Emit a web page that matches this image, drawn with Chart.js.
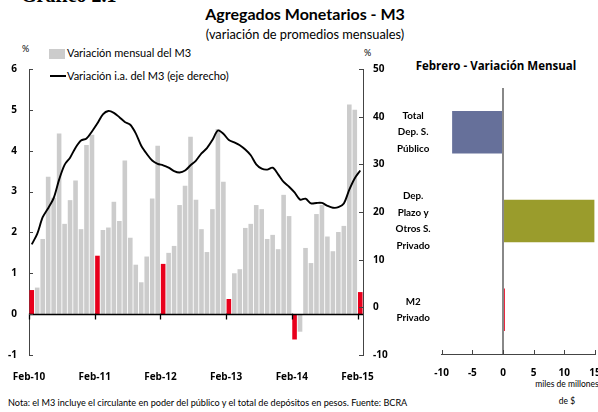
<!DOCTYPE html>
<html>
<head>
<meta charset="utf-8">
<script src="https://cdn.jsdelivr.net/npm/chart.js@4"></script>
<style>
  body { margin: 0; background: #fff; }
  #page { position: relative; width: 598px; height: 412px; overflow: hidden; font-family: Lato, "DejaVu Sans", sans-serif; color: #000; }
  .t { position: absolute; white-space: nowrap; }
  canvas { position: absolute; }
</style>
</head>
<body>
<div id="page">
  <div class="t" style="left:21px;top:-16px;font:bold 20px 'Liberation Serif',serif;">Gráfico 2.1</div>
  <div class="t" style="left:0;width:610px;top:4px;text-align:center;font-weight:bold;font-size:16px;">Agregados Monetarios - M3</div>
  <div class="t" style="left:0;width:610px;top:26px;text-align:center;font-size:12.8px;">(variación de promedios mensuales)</div>
  <div class="t" style="left:22px;top:43px;font-size:9px;">%</div>
  <div class="t" style="left:364px;top:47px;font-size:9px;">%</div>
  <div class="t" style="left:49px;top:49px;width:16px;height:10px;background:#cccccc;"></div>
  <div class="t" style="left:67px;top:46px;font-size:11px;">Variación mensual del M3</div>
  <div class="t" style="left:50px;top:75px;width:16px;height:2px;background:#000;"></div>
  <div class="t" style="left:67px;top:69px;font-size:11px;">Variación i.a. del M3 (eje derecho)</div>
  <div class="t" style="left:396px;width:200px;top:58px;text-align:center;font:bold 11.5px 'Open Sans',sans-serif;">Febrero - Variación Mensual</div>
  <div class="t" style="left:527px;width:80px;top:379px;text-align:center;font-size:8.5px;">miles de millones</div>
  <div class="t" style="left:527px;width:80px;top:396px;text-align:center;font-size:8.5px;">de $</div>
  <div class="t" style="left:8px;top:397px;font-size:9.1px;">Nota: el M3 incluye el circulante en poder del público y el total de depósitos en pesos. Fuente: BCRA</div>
  <canvas id="m3" width="400" height="330" style="left:0;top:60px;"></canvas>
  <canvas id="feb" width="213" height="332" style="left:385px;top:80px;"></canvas>
</div>
<script>
// meses Feb-10 ... Feb-15
var monthNames = ['Ene','Feb','Mar','Abr','May','Jun','Jul','Ago','Sep','Oct','Nov','Dic'];
var months = [];
for (var yr = 10; yr <= 15; yr++) {
  for (var m = 0; m < 12; m++) {
    if ((yr === 10 && m < 1) || (yr === 15 && m > 1)) continue;
    months.push(monthNames[m] + '-' + yr);
  }
}
var tickLabels = ['Feb-10', 'Feb-11', 'Feb-12', 'Feb-13', 'Feb-14', 'Feb-15'];

// variación mensual del M3 (%)
var monthlyChange = [
  0.59, 0.65, 1.84, 3.36, 2.85, 4.42, 2.21, 2.79, 3.27, 2.08, 4.14, 4.39,
  1.43, 2.06, 2.12, 2.75, 2.28, 3.76, 1.87, 1.21, 0.78, 1.41, 2.83, 4.12,
  1.23, 1.50, 1.67, 2.67, 3.14, 4.34, 2.80, 2.08, 1.52, 2.57, 4.53, 3.24,
  0.37, 1.00, 1.10, 2.11, 2.21, 2.67, 2.57, 1.84, 1.94, 1.59, 2.92, 2.40,
  -0.62, -0.43, 1.62, 1.25, 2.45, 2.67, 1.90, 1.54, 2.01, 2.16, 5.13, 5.00,
  0.54
];
// variación i.a. del M3 (%), eje derecho
var yoyChange = [
  13.2, 15.4, 18.9, 20.8, 22.9, 26.8, 29.9, 31.4, 33.5, 35.0, 35.4, 36.9,
  38.6, 40.5, 41.2, 40.8, 39.9, 38.9, 38.3, 36.5, 33.9, 32.2, 30.8, 30.1,
  29.8, 29.3, 28.6, 28.3, 28.7, 29.8, 30.8, 32.3, 33.4, 35.1, 37.1, 36.4,
  35.1, 34.6, 34.0, 33.1, 31.9, 30.0, 29.1, 28.9, 29.3, 27.9, 26.3, 25.3,
  24.1, 22.6, 22.8, 21.8, 21.9, 21.9, 21.3, 20.9, 21.0, 21.8, 24.7, 27.1,
  28.7
];

// panel derecho: febrero, miles de millones de $
var febCats = [['Total', 'Dep. S.', 'Público'], ['Dep.', 'Plazo y', 'Otros S.', 'Privado'], ['M2', 'Privado']];
var febValues = [-8.3, 14.9, 0.3];
var febColors = ['#66709a', '#9a9c2c', '#e8001c'];

var RED = '#e8001c', GREY = '#cccccc';
var tickFont = { family: 'Open Sans', size: 10, weight: 'bold' };

function noPad(s) {
  s.paddingTop = 0; s.paddingBottom = 0; s.paddingLeft = 0; s.paddingRight = 0;
}

var m3Marks = {
  id: 'm3Marks',
  afterDatasetsDraw: function(chart) {
    var ctx = chart.ctx, a = chart.chartArea, s = chart.scales;
    var z = Math.round(s.y.getPixelForValue(0)) + 0.5;
    ctx.save();
    ctx.strokeStyle = '#000';
    ctx.lineWidth = 1.3;
    ctx.beginPath();
    ctx.moveTo(a.left, z); ctx.lineTo(a.right, z);
    s.x2.ticks.forEach(function(t) {
      var p = Math.round(s.x2.getPixelForValue(t.value)) + 0.5;
      ctx.moveTo(p, z - 1); ctx.lineTo(p, z + 5);
    });
    ctx.stroke();
    ctx.strokeStyle = '#444';
    ctx.lineWidth = 1;
    ctx.beginPath();
    s.y.ticks.forEach(function(t) {
      var p = Math.round(s.y.getPixelForValue(t.value)) + 0.5;
      ctx.moveTo(a.left, p); ctx.lineTo(a.left + 4, p);
    });
    s.y1.ticks.forEach(function(t) {
      var p = Math.round(s.y1.getPixelForValue(t.value)) + 0.5;
      ctx.moveTo(a.right, p); ctx.lineTo(a.right - 4, p);
    });
    ctx.stroke();
    ctx.restore();
  }
};

new Chart(document.getElementById('m3'), {
  type: 'bar',
  data: {
    labels: months,
    datasets: [{
      type: 'line',
      data: yoyChange,
      yAxisID: 'y1',
      borderColor: '#000',
      borderWidth: 1.9,
      pointRadius: 0,
      tension: 0.3,
      order: 0
    }, {
      data: monthlyChange,
      yAxisID: 'y',
      backgroundColor: function(c) { return c.dataIndex % 12 === 0 ? RED : GREY; },
      barPercentage: 0.84,
      categoryPercentage: 1,
      order: 1
    }]
  },
  options: {
    responsive: false,
    animation: false,
    layout: { padding: { top: 9, left: 0, right: 0, bottom: 0 } },
    plugins: { legend: { display: false }, tooltip: { enabled: false } },
    scales: {
      x: { display: false, offset: true },
      x2: {
        type: 'linear',
        position: 'bottom',
        offset: false,
        min: 0,
        max: months.length,
        grid: { display: false, drawTicks: false },
        border: { display: false },
        afterBuildTicks: function(s) {
          s.ticks = tickLabels.map(function(l) { return { value: months.indexOf(l) }; });
        },
        afterFit: function(s) { s.height = 35; noPad(s); },
        ticks: {
          autoSkip: false, maxRotation: 0, padding: 16, color: '#000', font: tickFont,
          callback: function(v) { return months[v]; }
        }
      },
      y: {
        position: 'left',
        min: -1, max: 6,
        ticks: { stepSize: 1, padding: 12, color: '#000', font: tickFont },
        grid: { display: false, drawTicks: false },
        border: { display: true, color: '#444', width: 1 },
        afterFit: function(s) { s.width = 29; noPad(s); }
      },
      y1: {
        position: 'right',
        min: -10, max: 50,
        ticks: { stepSize: 10, padding: 10, color: '#000', font: tickFont },
        grid: { display: false, drawTicks: false },
        border: { display: true, color: '#444', width: 1 },
        afterFit: function(s) { s.width = 37; noPad(s); }
      }
    }
  },
  plugins: [m3Marks]
});

var febMarks = {
  id: 'febMarks',
  afterDatasetsDraw: function(chart) {
    var ctx = chart.ctx, a = chart.chartArea, sx = chart.scales.x;
    ctx.save();
    ctx.strokeStyle = '#444';
    ctx.lineWidth = 1;
    ctx.beginPath();
    sx.ticks.forEach(function(t) {
      var p = Math.round(sx.getPixelForValue(t.value)) + 0.5;
      ctx.moveTo(p, a.bottom + 1); ctx.lineTo(p, a.bottom - 4);
    });
    ctx.stroke();
    ctx.restore();
  }
};

new Chart(document.getElementById('feb'), {
  type: 'bar',
  data: {
    labels: febCats,
    datasets: [{
      data: febValues,
      backgroundColor: febColors,
      barPercentage: 0.48,
      categoryPercentage: 1
    }]
  },
  options: {
    indexAxis: 'y',
    responsive: false,
    animation: false,
    layout: { padding: { top: 8, right: 3, left: 0, bottom: 0 } },
    plugins: { legend: { display: false }, tooltip: { enabled: false } },
    scales: {
      x: {
        min: -10, max: 15,
        ticks: { stepSize: 5, padding: 13, color: '#000', font: tickFont },
        grid: {
          drawTicks: false,
          lineWidth: 2,
          color: function(c) { return c.tick && c.tick.value === 0 ? '#888' : 'rgba(0,0,0,0)'; }
        },
        border: { display: true, color: '#444', width: 1 },
        afterFit: function(s) { s.height = 58; noPad(s); }
      },
      y: {
        grid: { display: false, drawTicks: false },
        border: { display: false },
        ticks: {
          crossAlign: 'center', padding: 11, color: '#000',
          font: { family: 'Lato', size: 9.8, weight: 'bold', lineHeight: 1.7 }
        },
        afterFit: function(s) { s.width = 56.7; noPad(s); }
      }
    }
  },
  plugins: [febMarks]
});
</script>
</body>
</html>
